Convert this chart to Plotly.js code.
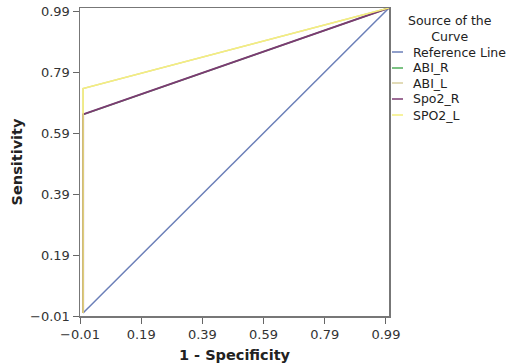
<!DOCTYPE html>
<html><head><meta charset="utf-8">
<script src="https://cdn.plot.ly/plotly-3.0.1.min.js"></script>
<style>html,body{margin:0;padding:0;background:#fff}#c{width:509px;height:364px}</style>
</head><body><div id="c"></div>
<script>
const seriesNames = ["Reference Line", "ABI_R", "ABI_L", "Spo2_R", "SPO2_L"];
const seriesColors = ["#6b7fb8", "#4fae5a", "#d9cf9f", "#7b3a72", "#f4ef7e"];
const seriesWidths = [1.5, 1.5, 1.5, 2, 1.5];
const refX = [0, 1], refY = [0, 1];
const abiRX = [0, 0, 1], abiRY = [0, 0.651, 1];
const abiLX = [0, 0, 1], abiLY = [0, 0.736, 1];
const spo2RX = [0, 0, 1], spo2RY = [0, 0.651, 1];
const spo2LX = [0, 0, 1], spo2LY = [0, 0.736, 1];
const tickVals = [-0.01, 0.19, 0.39, 0.59, 0.79, 0.99];
const tickText = ["\u22120.01", "0.19", "0.39", "0.59", "0.79", "0.99"];
const legendTitle = "Source of the<br>Curve";

const xs = [refX, abiRX, abiLX, spo2RX, spo2LX];
const ys = [refY, abiRY, abiLY, spo2RY, spo2LY];
const traces = seriesNames.map((n, i) => ({
  x: xs[i], y: ys[i], name: n, type: "scatter", mode: "lines",
  line: {color: seriesColors[i], width: seriesWidths[i]}, showlegend: false
}));
const font = "'Lucida Grande', 'DejaVu Sans', sans-serif";
const axisCommon = {
  range: [-0.01, 1.0], tickvals: tickVals, ticktext: tickText,
  ticks: "outside", ticklen: 6, tickcolor: "#666", tickwidth: 1,
  showline: true, linecolor: "#777", linewidth: 1.5, mirror: true,
  showgrid: false, zeroline: false,
  tickfont: {family: font, size: 13, color: "#333"}
};

// manual legend (paper coordinates)
const W = 309, H = 308, L = 80, B = 48, FH = 364;
const px2x = p => (p - L) / W;
const py2y = p => (FH - B - p) / H;
const rowPy = [52, 68, 83, 99, 115];
const shapes = [], annotations = [];
seriesNames.forEach((n, i) => {
  shapes.push({type: "line", xref: "paper", yref: "paper",
    x0: px2x(392), x1: px2x(403), y0: py2y(rowPy[i]), y1: py2y(rowPy[i]),
    line: {color: seriesColors[i], width: 1.5}});
  annotations.push({xref: "paper", yref: "paper", x: px2x(411), y: py2y(rowPy[i]),
    xanchor: "left", yanchor: "middle", text: n, showarrow: false,
    font: {family: font, size: 12.5, color: "#222"}});
});
annotations.push({xref: "paper", yref: "paper", x: px2x(450), y: py2y(28),
  xanchor: "center", yanchor: "middle", align: "center", text: legendTitle, showarrow: false,
  font: {family: font, size: 12.5, color: "#222"}});

const layout = {
  width: 509, height: 364,
  margin: {l: L, r: 509 - L - W, t: FH - B - H, b: B, autoexpand: false},
  paper_bgcolor: "#fff", plot_bgcolor: "#fff",
  font: {family: font, color: "#222"},
  xaxis: Object.assign({}, axisCommon, {
    title: {text: "<b>1 - Specificity</b>", font: {family: font, size: 14.5, color: "#222"}, standoff: 9}
  }),
  yaxis: Object.assign({}, axisCommon, {
    title: {text: "<b>Sensitivity</b>", font: {family: font, size: 14.5, color: "#222"}, standoff: 4}
  }),
  showlegend: false,
  shapes: shapes,
  annotations: annotations
};
Plotly.newPlot("c", traces, layout, {staticPlot: true, displayModeBar: false});
</script></body></html>
